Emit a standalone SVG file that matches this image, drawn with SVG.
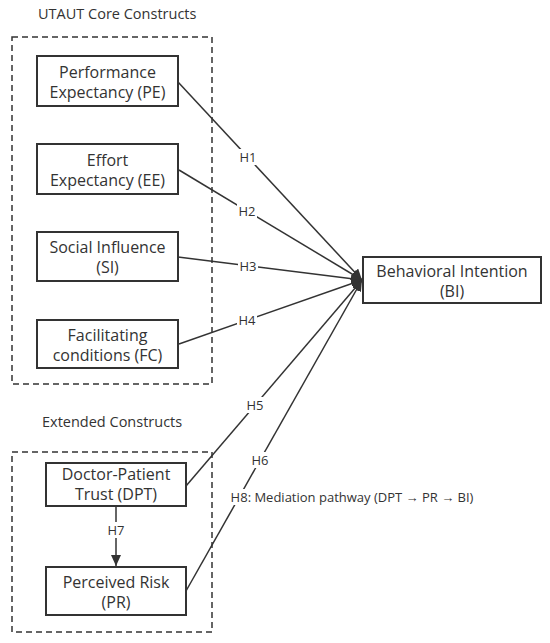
<svg xmlns="http://www.w3.org/2000/svg" width="550" height="643" viewBox="0 0 550 643">
<defs>
<style>
.grp{fill:none;stroke:#333;stroke-width:1.5;stroke-dasharray:6,4}
.node rect{fill:#fff;stroke:#333;stroke-width:2}
.t{font-family:"Open Sans","Noto Sans",sans-serif;font-size:16px;fill:#333;text-anchor:middle}
.title{font-family:"Open Sans","Noto Sans",sans-serif;font-size:14.5px;fill:#333}
.edge{stroke:#333;stroke-width:1.5;fill:none}
.lb{font-family:"Open Sans","Noto Sans",sans-serif;font-size:13px;fill:#333;text-anchor:middle;dominant-baseline:central}
.lbg{fill:#fff}
</style>
<marker id="ah" markerUnits="userSpaceOnUse" markerWidth="12" markerHeight="10" refX="11" refY="5" orient="auto">
<path d="M0,0 L11,5 L0,10 z" fill="#333"/>
</marker>
</defs>
<rect width="550" height="643" fill="#fff"/>
<text class="title" x="38" y="19">UTAUT Core Constructs</text>
<rect class="grp" x="12" y="37" width="200" height="347"/>
<text class="title" x="42" y="427">Extended Constructs</text>
<rect class="grp" x="12" y="452" width="200" height="180"/>

<g id="connectors">
<line class="edge" x1="178" y1="82" x2="362" y2="280" marker-end="url(#ah)"/>
<line class="edge" x1="179" y1="170" x2="362" y2="280" marker-end="url(#ah)"/>
<line class="edge" x1="178" y1="257" x2="362" y2="280" marker-end="url(#ah)"/>
<line class="edge" x1="179" y1="344" x2="362" y2="280" marker-end="url(#ah)"/>
<line class="edge" x1="186" y1="486" x2="362" y2="280" marker-end="url(#ah)"/>
<line class="edge" x1="186" y1="591" x2="362" y2="280" marker-end="url(#ah)"/>
<line class="edge" x1="116" y1="507" x2="116" y2="566" marker-end="url(#ah)"/>
<rect class="lbg" x="238" y="149" width="20" height="16"/>
<text class="lb" x="248" y="157">H1</text>
<rect class="lbg" x="237" y="203" width="20" height="16"/>
<text class="lb" x="247" y="211">H2</text>
<rect class="lbg" x="238" y="258" width="20" height="16"/>
<text class="lb" x="248" y="266">H3</text>
<rect class="lbg" x="237" y="312" width="20" height="16"/>
<text class="lb" x="247" y="320">H4</text>
<rect class="lbg" x="245" y="397" width="20" height="16"/>
<text class="lb" x="255" y="405">H5</text>
<rect class="lbg" x="250" y="452" width="20" height="16"/>
<text class="lb" x="260" y="460">H6</text>
<rect class="lbg" x="106" y="522" width="20" height="16"/>
<text class="lb" x="116" y="530">H7</text>
<rect class="lbg" x="230" y="489" width="246" height="16"/>
<text class="lb" x="352" y="497">H8:  Mediation pathway (DPT → PR → BI)</text>
</g>

<g id="PE" class="node"><rect x="37" y="56" width="141" height="50"/><text class="t" x="107.5" y="78">Performance</text><text class="t" x="107.5" y="98">Expectancy (PE)</text></g>
<g id="EE" class="node"><rect x="37" y="144" width="141" height="50"/><text class="t" x="107.5" y="166">Effort</text><text class="t" x="107.5" y="186">Expectancy (EE)</text></g>
<g id="SI" class="node"><rect x="37" y="232" width="141" height="49"/><text class="t" x="107.5" y="253">Social Influence</text><text class="t" x="107.5" y="273">(SI)</text></g>
<g id="FC" class="node"><rect x="37" y="320" width="141" height="48"/><text class="t" x="107.5" y="341">Facilitating</text><text class="t" x="107.5" y="361">conditions (FC)</text></g>
<g id="BI" class="node"><rect x="363" y="257" width="178" height="46"/><text class="t" x="452" y="277">Behavioral Intention</text><text class="t" x="452" y="297">(BI)</text></g>
<g id="DPT" class="node"><rect x="46" y="463" width="140" height="43"/><text class="t" x="116" y="480">Doctor-Patient</text><text class="t" x="116" y="500">Trust (DPT)</text></g>
<g id="PR" class="node"><rect x="46" y="567" width="140" height="48"/><text class="t" x="116" y="588">Perceived Risk</text><text class="t" x="116" y="608">(PR)</text></g>
</svg>
